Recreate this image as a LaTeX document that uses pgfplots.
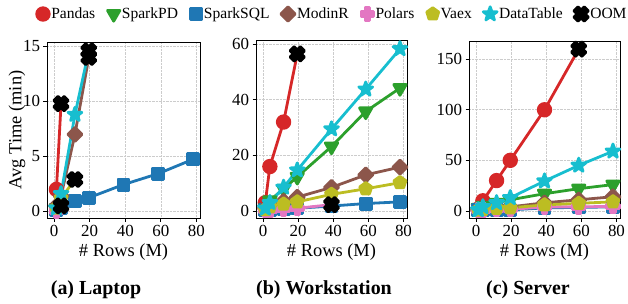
\documentclass[border=0pt]{standalone}
\usepackage{fontspec}
\setmainfont{Liberation Serif}
\usepackage{pgfplots}
\pgfplotsset{compat=1.18}
\usetikzlibrary{plotmarks}

\definecolor{cPandas}{HTML}{D62728}
\definecolor{cSparkPD}{HTML}{2CA02C}
\definecolor{cSparkSQL}{HTML}{1F77B4}
\definecolor{cModinR}{HTML}{8C564B}
\definecolor{cPolars}{HTML}{E377C2}
\definecolor{cVaex}{HTML}{BCBD22}
\definecolor{cDataTable}{HTML}{17BECF}

\newcommand{\plusshape}[1]{%
  \pgfpathmoveto{\pgfqpoint{-#1\pgfplotmarksize}{\pgfplotmarksize}}%
  \pgfpathlineto{\pgfqpoint{#1\pgfplotmarksize}{\pgfplotmarksize}}%
  \pgfpathlineto{\pgfqpoint{#1\pgfplotmarksize}{#1\pgfplotmarksize}}%
  \pgfpathlineto{\pgfqpoint{\pgfplotmarksize}{#1\pgfplotmarksize}}%
  \pgfpathlineto{\pgfqpoint{\pgfplotmarksize}{-#1\pgfplotmarksize}}%
  \pgfpathlineto{\pgfqpoint{#1\pgfplotmarksize}{-#1\pgfplotmarksize}}%
  \pgfpathlineto{\pgfqpoint{#1\pgfplotmarksize}{-\pgfplotmarksize}}%
  \pgfpathlineto{\pgfqpoint{-#1\pgfplotmarksize}{-\pgfplotmarksize}}%
  \pgfpathlineto{\pgfqpoint{-#1\pgfplotmarksize}{-#1\pgfplotmarksize}}%
  \pgfpathlineto{\pgfqpoint{-\pgfplotmarksize}{-#1\pgfplotmarksize}}%
  \pgfpathlineto{\pgfqpoint{-\pgfplotmarksize}{#1\pgfplotmarksize}}%
  \pgfpathlineto{\pgfqpoint{-#1\pgfplotmarksize}{#1\pgfplotmarksize}}%
  \pgfpathclose}
\pgfdeclareplotmark{fplus}{\plusshape{0.36}\pgfusepathqfillstroke}
\pgfdeclareplotmark{fx}{\pgfscope\pgftransformrotate{45}\plusshape{0.40}\pgfusepathqfillstroke\endpgfscope}
\pgfdeclareplotmark{fstar}{%
  \pgfpathmoveto{\pgfpointpolar{90}{\pgfplotmarksize}}%
  \pgfpathlineto{\pgfpointpolar{126}{0.4\pgfplotmarksize}}%
  \pgfpathlineto{\pgfpointpolar{162}{\pgfplotmarksize}}%
  \pgfpathlineto{\pgfpointpolar{198}{0.4\pgfplotmarksize}}%
  \pgfpathlineto{\pgfpointpolar{234}{\pgfplotmarksize}}%
  \pgfpathlineto{\pgfpointpolar{270}{0.4\pgfplotmarksize}}%
  \pgfpathlineto{\pgfpointpolar{306}{\pgfplotmarksize}}%
  \pgfpathlineto{\pgfpointpolar{342}{0.4\pgfplotmarksize}}%
  \pgfpathlineto{\pgfpointpolar{18}{\pgfplotmarksize}}%
  \pgfpathlineto{\pgfpointpolar{54}{0.4\pgfplotmarksize}}%
  \pgfpathclose\pgfusepathqfillstroke}

\pgfplotsset{
  sPandas/.style={color=cPandas, mark=*, mark size=6.3},
  sSparkPD/.style={color=cSparkPD, mark=triangle*, mark size=7.2, mark options={rotate=180}},
  sSparkSQL/.style={color=cSparkSQL, mark=square*, mark size=5.6},
  sModinR/.style={color=cModinR, mark=square*, mark size=5.0, mark options={rotate=45}},
  sPolars/.style={color=cPolars, mark=fplus, mark size=6.3},
  sVaex/.style={color=cVaex, mark=pentagon*, mark size=6.3},
  sDataTable/.style={color=cDataTable, mark=fstar, mark size=7.3},
  sOOM/.style={color=black, mark=fx, mark size=7.3, only marks},
  myaxis/.style={
    scale only axis,
    xmin=-4, xmax=82,
    xtick={0,20,40,60,80},
    grid=major,
    major grid style={densely dotted, black!20, line width=0.6bp},
    axis line style={line width=0.8bp},
    tick align=outside, xtick pos=lower, ytick pos=left,
    major tick length=3.5bp,
    tick style={line width=0.8bp, black},
    /pgf/number format/assume math mode=true,
    tick label style={font=\fontsize{17}{17}\selectfont},
    label style={font=\fontsize{18.5}{18.5}\selectfont},
    xlabel={\# Rows (M)},
    x label style={at={(axis description cs:0.5,0)}, anchor=center, yshift=-34bp},
    every axis plot/.append style={line width=2.8bp, line join=round},
  },
}

\begin{document}
\begin{tikzpicture}
\useasboundingbox (0,0) rectangle (628bp,304bp);

% ---------------- (a) Laptop ----------------
\begin{axis}[myaxis,
  at={(47bp,86bp)}, anchor=south west, width=153bp, height=176bp,
  ymin=-0.6, ymax=15.4, ytick={0,5,10,15},
  ylabel={Avg Time (min)},
  y label style={at={(axis description cs:-0.196,0.5)}, anchor=center},
  legend columns=8,
  legend image code/.code={\draw[#1, only marks] plot coordinates {(0bp,0bp)}; \path (-7bp,0bp) (4bp,0bp);},
  legend style={draw=none, fill=none, font=\fontsize{15.6}{15.6}\selectfont,
    at={(1.860,1.159)}, anchor=center,
    /tikz/every odd column/.append style={column sep=0bp},
    /tikz/every even column/.append style={column sep=8bp}},
  legend cell align=left,
]
\addlegendimage{sPandas}
\addlegendimage{sSparkPD}
\addlegendimage{sSparkSQL}
\addlegendimage{sModinR}
\addlegendimage{sPolars}
\addlegendimage{sVaex}
\addlegendimage{sDataTable}
\addlegendimage{sOOM}
\legend{Pandas, SparkPD, SparkSQL, ModinR, Polars, Vaex, DataTable, OOM}

\addplot[sPandas, forget plot, mark indices={1}] coordinates {(1.3,2.0) (3.9,9.8)};
\addplot[sSparkPD, forget plot, mark indices={1}] coordinates {(1.3,0.3) (3.9,0.5)};
\addplot[sSparkSQL, forget plot] coordinates {(1.3,0.1) (3.9,0.3) (11.7,0.93) (19.5,1.24) (39,2.44) (58.5,3.43) (78,4.73)};
\addplot[sModinR, forget plot, mark indices={1,2,3}] coordinates {(1.3,0.5) (3.9,1.4) (11.7,7.0) (19.5,14.0)};
\addplot[sPolars, forget plot, mark indices={1}] coordinates {(1.3,0.05) (3.9,0.5)};
\addplot[sVaex, forget plot, mark indices={1,2}] coordinates {(1.3,0.3) (3.9,1.2) (11.7,2.9)};
\addplot[sDataTable, forget plot, mark indices={1,2,3}] coordinates {(1.3,0.3) (3.9,1.6) (11.7,8.8) (19.5,14.6)};
\addplot[sOOM, forget plot] coordinates {(3.9,9.8) (3.9,0.5) (11.7,2.9) (19.5,14.0) (19.5,14.6)};
\end{axis}

% ---------------- (b) Workstation ----------------
\begin{axis}[myaxis,
  at={(256bp,86bp)}, anchor=south west, width=151bp, height=178bp,
  ymin=-2.5, ymax=61.5, ytick={0,20,40,60},
]
\addplot[sPandas, mark indices={1,2,3}] coordinates {(1.3,3) (3.9,16) (11.7,32) (19.5,56.5)};
\addplot[sSparkPD] coordinates {(1.3,1) (3.9,3.8) (11.7,8) (19.5,12.3) (39,23.2) (58.5,35.8) (78,44.2)};
\addplot[sSparkSQL] coordinates {(1.3,0.3) (3.9,0.5) (11.7,0.8) (19.5,1.0) (39,1.8) (58.5,2.7) (78,3.3)};
\addplot[sModinR] coordinates {(1.3,1) (3.9,2) (11.7,3.5) (19.5,5) (39,8.5) (58.5,13) (78,15.8)};
\addplot[sPolars, mark indices={1,2,3,4}] coordinates {(1.3,0.2) (3.9,0.3) (11.7,0.6) (19.5,1.0) (39,2.3)};
\addplot[sVaex] coordinates {(1.3,0.5) (3.9,1.5) (11.7,2.5) (19.5,3.3) (39,6) (58.5,8) (78,10.2)};
\addplot[sDataTable] coordinates {(1.3,1) (3.9,3) (11.7,8.5) (19.5,14.7) (39,29.5) (58.5,43.8) (78,58.3)};
\addplot[sOOM] coordinates {(19.5,56.5) (39,2.3)};
\end{axis}

% ---------------- (c) Server ----------------
\begin{axis}[myaxis,
  at={(469bp,86bp)}, anchor=south west, width=151bp, height=177bp,
  ymin=-7, ymax=168, ytick={0,50,100,150},
]
\addplot[sPandas, mark indices={1,2,3,4,5}] coordinates {(1.3,2) (3.9,10) (11.7,30) (19.5,50) (39,100) (58.5,160)};
\addplot[sSparkPD] coordinates {(1.3,3) (3.9,5) (11.7,8) (19.5,11) (39,17) (58.5,22) (78,26)};
\addplot[sSparkSQL] coordinates {(1.3,0.5) (3.9,0.6) (11.7,0.8) (19.5,1.0) (39,3) (58.5,3.5) (78,4)};
\addplot[sModinR] coordinates {(1.3,1) (3.9,2) (11.7,3) (19.5,4) (39,8) (58.5,11) (78,14)};
\addplot[sPolars] coordinates {(1.3,0.8) (3.9,1) (11.7,1.2) (19.5,1.5) (39,4) (58.5,4) (78,4.5)};
\addplot[sVaex] coordinates {(1.3,0.8) (3.9,1.5) (11.7,2.5) (19.5,3) (39,6) (58.5,7.5) (78,9)};
\addplot[sDataTable] coordinates {(1.3,1) (3.9,4) (11.7,8) (19.5,13) (39,29.5) (58.5,45) (78,59)};
\addplot[sOOM] coordinates {(58.5,160)};
\end{axis}

\node[font=\bfseries\fontsize{20}{20}\selectfont] at (96bp,14bp) {(a) Laptop};
\node[font=\bfseries\fontsize{20}{20}\selectfont] at (324bp,14bp) {(b) Workstation};
\node[font=\bfseries\fontsize{20}{20}\selectfont] at (528bp,14bp) {(c) Server};
\end{tikzpicture}
\end{document}
